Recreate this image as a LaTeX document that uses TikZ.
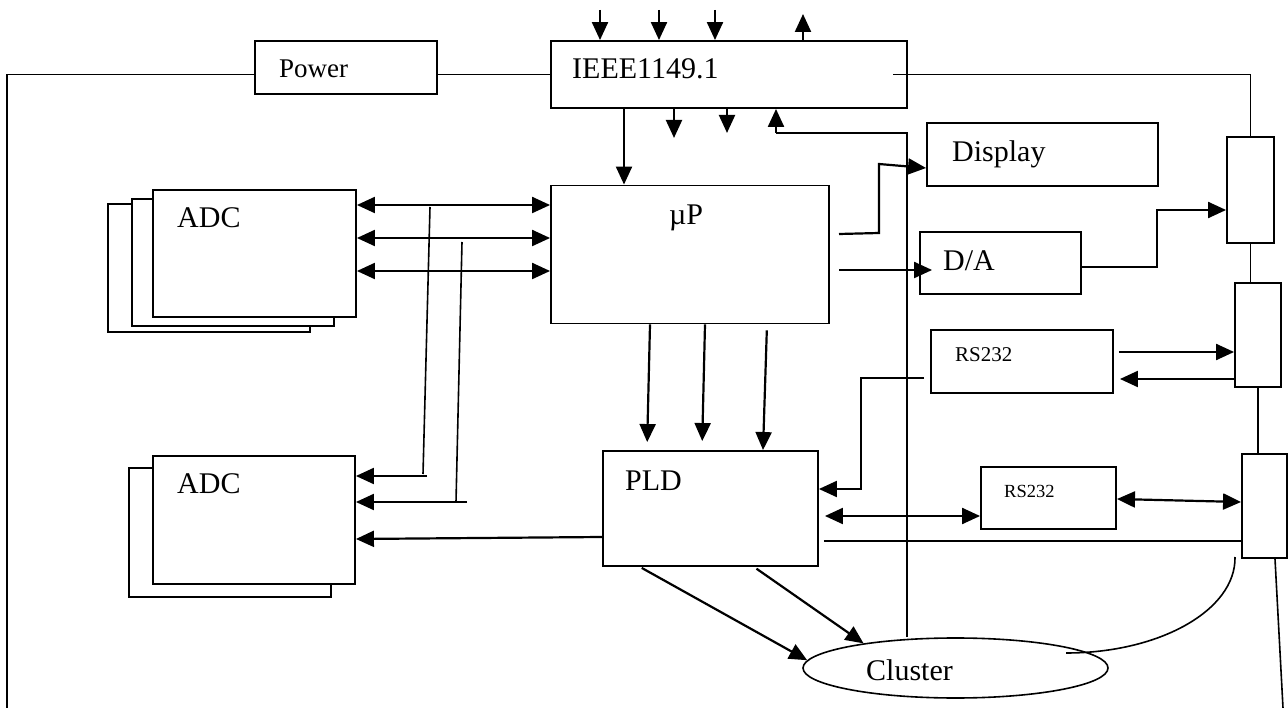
\documentclass[tikz,border=0pt]{standalone}
\usepackage{fontspec}
\setmainfont{Liberation Serif}
\usetikzlibrary{arrows.meta,shapes.geometric}

\begin{document}
\begin{tikzpicture}[x=1pt, y=-1pt,
    box/.style={draw, line width=1.9pt, fill=white, inner sep=0pt},
    lbl/.style={anchor=base west, inner sep=0pt, font=\fontsize{30}{36}\selectfont},
    arr/.style={-{Triangle[length=18pt,width=16pt]}, line width=2.2pt},
    darr/.style={{Triangle[length=18pt,width=16pt]}-{Triangle[length=18pt,width=16pt]}, line width=2.2pt},
    conn/.style={line width=1.6pt}]
\useasboundingbox (0,0) rectangle (1288,708);

    % Blocks
    \node[box, minimum width=182pt, minimum height=53pt] (power) at (346,67.5) {};
    \node[box, minimum width=356pt, minimum height=67pt] (ieee) at (729,74.5) {};
    \node[box, minimum width=278pt, minimum height=138pt] (up) at (690,254.5) {};
    \node[box, minimum width=231pt, minimum height=63pt] (display) at (1042.5,154.5) {};
    \node[box, minimum width=161pt, minimum height=62pt] (da) at (1000.5,263) {};
    \node[box, minimum width=182pt, minimum height=63pt] (rs1) at (1022,361.5) {};
    \node[box, minimum width=135pt, minimum height=62pt] (rs2) at (1048.5,498) {};
    \node[box, minimum width=215pt, minimum height=115pt] (pld) at (710.5,508.5) {};
    \node[box, minimum width=47pt, minimum height=106pt] (b1) at (1250.5,190) {};
    \node[box, minimum width=46pt, minimum height=104pt] (b2) at (1258,335) {};
    \node[box, minimum width=45pt, minimum height=104pt] (b3) at (1264.5,506) {};
    \node[ellipse, draw, line width=1.6pt, minimum width=305pt, minimum height=60pt, inner sep=0pt] (cluster) at (955.5,668) {};

    % ADC stacks
    \node[box, minimum width=202pt, minimum height=128pt] (adc1c) at (209,268) {};
    \node[box, minimum width=202pt, minimum height=127pt] (adc1b) at (233,262.5) {};
    \node[box, minimum width=203pt, minimum height=127pt] (adc1) at (254.5,253.5) {};
    \node[box, minimum width=202pt, minimum height=129pt] (adc2b) at (230,532.5) {};
    \node[box, minimum width=202pt, minimum height=128pt] (adc2) at (254,520) {};

    % Labels
    \node[lbl, font=\fontsize{27}{32}\selectfont] (tpower) at (279,78) {Power};
    \node[lbl] (tieee) at (572,79) {IEEE1149.1};
    \node[lbl] (tup) at (669,225) {µP};
    \node[lbl] (tdisp) at (952,162) {Display};
    \node[lbl] (tda) at (943,271) {D/A};
    \node[lbl] (tadc1) at (177,228) {ADC};
    \node[lbl] (tadc2) at (177,493) {ADC};
    \node[lbl] (tpld) at (625,490) {PLD};
    \node[lbl, font=\fontsize{21}{25}\selectfont] (trs1) at (955,362) {RS232};
    \node[lbl, font=\fontsize{18.5}{22}\selectfont] (trs2) at (1004,497) {RS232};
    \node[lbl] (tclus) at (866,680) {Cluster};

    % Power and boundary lines
    \coordinate (lbot) at (7,708);
    \coordinate (rbot) at (1283,708);
    \draw[conn] (power.east |- ieee.west) -- (ieee.west);
    \draw[conn] (power.west |- ieee.west) -| (lbot);
    \draw[conn] (893,0 |- ieee.west) -| (b1.north);

    % IEEE1149.1 pins
    \foreach \x in {600,659,715}
        \draw[arr] (\x,10) -- (\x,0 |- ieee.north);
    \draw[arr] (803,0 |- ieee.north) -- (803,14);
    \draw[arr] (624,0 |- ieee.south) -- (624,0 |- up.north);
    \draw[arr] (674,0 |- ieee.south) -- ++(0,29);
    \draw[arr] (727,0 |- ieee.south) -- ++(0,24);
    \draw[conn] (cluster.north -| 907,0) -- (907,133) -- (776,133);
    \draw[arr] (776,133) -- (776,0 |- ieee.south);

    % ADC buses
    \foreach \y in {205,238,271}
        \draw[darr] (adc1.east |- 0,\y) -- (up.west |- 0,\y);
    \draw[conn] (430,207) -- (423,474);
    \draw[arr] (427,476) -- (adc2.east |- 0,476);
    \draw[conn] (462,242) -- (456,502);
    \draw[arr] (467,502) -- (adc2.east |- 0,502);
    \draw[arr] (pld.west |- 0,537) -- (adc2.east |- 0,539);

    % uP to PLD
    \draw[arr, shorten >=8pt] (up.south -| 650,0) -- (pld.north -| 647,0);
    \draw[arr, shorten >=9pt] (up.south -| 705,0) -- (pld.north -| 702,0);
    \draw[arr, shorten <=6pt] (up.south -| 767,0) -- (pld.north -| 763,0);

    % uP outputs
    \draw[arr] (839,234) -- (879,233) -- (879,164) -- (display.west |- 0,168);
    \draw[arr, shorten >=-13pt] (839,270) -- (da.west |- 0,270);
    \draw[arr] (da.east |- 0,267) -- (1157,267) -- (1157,210) -- (b1.west |- 0,210);

    % Right chain
    \draw[conn] (b1.south) -- (b1.south |- b2.north);
    \draw[conn] (b2.south) -- (b2.south |- b3.north);
    \draw[conn] (b3.south -| 1275,0) -- (rbot);

    % RS232 links
    \draw[arr, shorten <=5pt] (rs1.east |- 0,352) -- (b2.west |- 0,352);
    \draw[arr, shorten >=6pt] (b2.west |- 0,379) -- (rs1.east |- 0,379);
    \draw[arr, shorten <=6pt] (rs1.west |- 0,378) -- (861,378) -- (861,489) -- (pld.east |- 0,489);
    \draw[darr, shorten <=6pt] (pld.east |- 0,516) -- (rs2.west |- 0,516);
    \draw[darr] (rs2.east |- 0,499) -- (b3.west |- 0,502);
    \draw[conn, shorten <=5pt] (pld.east |- 0,541) -- (b3.west |- 0,541);

    % Cluster
    \draw[arr, shorten <=2pt] (pld.south -| 640,0) -- (cluster.177);
    \draw[arr, shorten <=3pt] (pld.south -| 754,0) -- (cluster.165);
    \draw[conn] (1066,653) .. controls (1160,653) and (1236,610) .. (1235,557);
\end{tikzpicture}
\end{document}
